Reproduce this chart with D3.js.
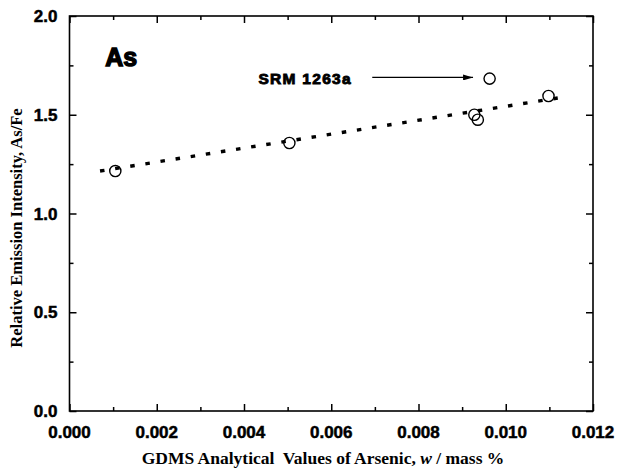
<!DOCTYPE html>
<html>
<head>
<meta charset="utf-8">
<script src="https://cdn.jsdelivr.net/npm/d3@7"></script>
<style>
  body { margin: 0; background: #fff; }
  svg { display: block; }
</style>
</head>
<body>
<div class="chart"></div>
<script>
  const width = 618
  const height = 470

  // GDMS values (mass %) and relative intensity As/Fe
  const gdms = [0.00105, 0.00504, 0.00928, 0.00936, 0.00963, 0.01098]
  const intensity = [1.215, 1.357, 1.500, 1.475, 1.683, 1.595]

  // dotted fit line, end points
  const fitX = [0.0007, 0.0112]
  const fitY = [1.215, 1.585]

  const xTicks = [0, 0.002, 0.004, 0.006, 0.008, 0.010, 0.012]
  const xMinor = [0.001, 0.003, 0.005, 0.007, 0.009, 0.011]
  const yTicks = [0, 0.5, 1.0, 1.5, 2.0]
  const yMinor = [0.25, 0.75, 1.25, 1.75]

  const xScale = d3.scaleLinear().domain([0, 0.012]).range([69.5, 593])
  const yScale = d3.scaleLinear().domain([0, 2]).range([411, 16])

  const svg = d3.select('.chart').append('svg')
    .attr('width', width)
    .attr('height', height)

  const x0 = xScale(0), x1 = xScale(0.012)
  const y0 = yScale(0), y1 = yScale(2)

  // tick marks, all pointing inward
  function ticks(axisFn, scale, values, size, translate) {
    const g = svg.append('g')
      .attr('transform', translate)
      .call(axisFn(scale).tickValues(values).tickSize(size).tickSizeOuter(0)
        .tickFormat(''))
    g.select('.domain').remove()
    g.selectAll('line').attr('stroke', '#000').attr('stroke-width', 1.5)
    return g
  }

  ticks(d3.axisBottom, xScale, xTicks, -7, `translate(0,${y0})`)
  ticks(d3.axisBottom, xScale, xMinor, -4, `translate(0,${y0})`)
  ticks(d3.axisTop, xScale, xTicks, -7, `translate(0,${y1})`)
  ticks(d3.axisTop, xScale, xMinor, -4, `translate(0,${y1})`)
  ticks(d3.axisLeft, yScale, yTicks, -7, `translate(${x0},0)`)
  ticks(d3.axisLeft, yScale, yMinor, -4, `translate(${x0},0)`)
  ticks(d3.axisRight, yScale, yTicks, -7, `translate(${x1},0)`)
  ticks(d3.axisRight, yScale, yMinor, -4, `translate(${x1},0)`)

  svg.append('rect')
    .attr('x', x0).attr('y', y1)
    .attr('width', x1 - x0).attr('height', y0 - y1)
    .attr('fill', 'none')
    .attr('stroke', '#000')
    .attr('stroke-width', 1.6)

  // tick labels
  const labelFont = 'Liberation Sans, Arial, sans-serif'
  svg.append('g').selectAll('text')
    .data(xTicks)
    .join('text')
    .attr('x', d => xScale(d))
    .attr('y', y0 + 27)
    .attr('text-anchor', 'middle')
    .attr('font-family', labelFont)
    .attr('font-weight', 'bold')
    .attr('font-size', 17)
    .attr('stroke', '#000').attr('stroke-width', 0.5)
    .text(d => d3.format('.3f')(d))

  svg.append('g').selectAll('text')
    .data(yTicks)
    .join('text')
    .attr('x', x0 - 12)
    .attr('y', d => yScale(d) + 6)
    .attr('text-anchor', 'end')
    .attr('font-family', labelFont)
    .attr('font-weight', 'bold')
    .attr('font-size', 17)
    .attr('stroke', '#000').attr('stroke-width', 0.5)
    .text(d => d3.format('.1f')(d))

  // dotted regression line
  svg.append('line')
    .attr('x1', xScale(fitX[0])).attr('y1', yScale(fitY[0]))
    .attr('x2', xScale(fitX[1])).attr('y2', yScale(fitY[1]))
    .attr('stroke', '#000')
    .attr('stroke-width', 3.4)
    .attr('stroke-dasharray', '4.5,10.8')

  // open circles
  svg.append('g').selectAll('circle')
    .data(gdms.map((d, i) => [d, intensity[i]]))
    .join('circle')
    .attr('cx', d => xScale(d[0]))
    .attr('cy', d => yScale(d[1]))
    .attr('r', 5.6)
    .attr('fill', 'none')
    .attr('stroke', '#000')
    .attr('stroke-width', 1.4)

  // "As" label
  svg.append('text')
    .attr('x', xScale(0.00082))
    .attr('y', yScale(1.747))
    .attr('font-family', labelFont)
    .attr('font-weight', 'bold')
    .attr('font-size', 25)
    .attr('stroke', '#000').attr('stroke-width', 1.4)
    .text('As')

  // SRM annotation with arrow
  svg.append('text')
    .attr('x', xScale(0.00433))
    .attr('y', yScale(1.658))
    .attr('font-family', labelFont)
    .attr('font-weight', 'bold')
    .attr('font-size', 15.5)
    .attr('letter-spacing', 1.3)
    .attr('stroke', '#000').attr('stroke-width', 0.9)
    .text('SRM 1263a')

  svg.append('defs').append('marker')
    .attr('id', 'arrowhead')
    .attr('viewBox', '0 0 10 6')
    .attr('refX', 10).attr('refY', 3)
    .attr('markerWidth', 10).attr('markerHeight', 6)
    .attr('markerUnits', 'userSpaceOnUse')
    .attr('orient', 'auto')
    .append('path')
    .attr('d', 'M0,0 L10,3 L0,6 Z')
    .attr('fill', '#000')

  svg.append('line')
    .attr('x1', xScale(0.00694)).attr('y1', yScale(1.689))
    .attr('x2', xScale(0.00925)).attr('y2', yScale(1.689))
    .attr('stroke', '#000')
    .attr('stroke-width', 1.1)
    .attr('marker-end', 'url(#arrowhead)')

  // axis titles
  const titleFont = 'Liberation Serif, Times New Roman, serif'
  svg.append('text')
    .attr('transform', `translate(22,228) rotate(-90)`)
    .attr('text-anchor', 'middle')
    .attr('font-family', titleFont)
    .attr('font-weight', 'bold')
    .attr('font-size', 16.5)
    .text('Relative Emission Intensity, As/Fe')

  const xTitle = svg.append('text')
    .attr('x', 323)
    .attr('y', 464)
    .attr('text-anchor', 'middle')
    .attr('font-family', titleFont)
    .attr('font-weight', 'bold')
    .attr('font-size', 17.5)
    .style('white-space', 'pre')
  xTitle.append('tspan').text('GDMS Analytical  Values of Arsenic, ')
  xTitle.append('tspan').attr('font-style', 'italic').text('w')
  xTitle.append('tspan').text(' / mass %')
</script>
</body>
</html>
